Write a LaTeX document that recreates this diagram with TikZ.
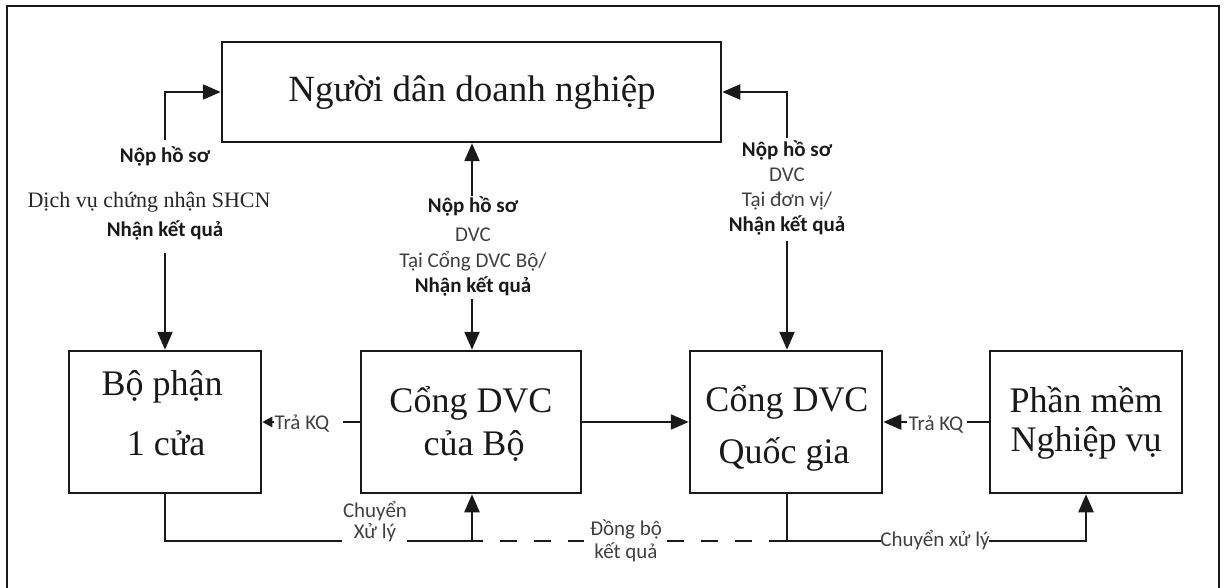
\documentclass[tikz,border=0pt]{standalone}
\usepackage{fontspec}
\setmainfont{Liberation Serif}
\newfontfamily\labfont{Carlito}
\usetikzlibrary{arrows.meta}
\begin{document}
\begin{tikzpicture}[x=1pt,y=-1pt,
  box/.style={draw=black!90,line width=2.5pt,inner sep=0pt},
  btxt/.style={anchor=base,inner sep=0pt,font=\fontsize{36}{40}\selectfont,text=black!90},
  lb/.style={anchor=base,inner sep=0pt,font=\labfont\bfseries\fontsize{21}{25}\selectfont,text=black!90},
  lr/.style={anchor=base,inner sep=0pt,font=\labfont\fontsize{21}{25}\selectfont,text=black!75},
  ls/.style={anchor=base,inner sep=0pt,font=\fontsize{22}{26}\selectfont,text=black!85},
  ln/.style={line width=2.3pt,draw=black!90},
  arr/.style={ln,-{Triangle[length=18pt,width=15pt]}},
  sarr/.style={ln,-{Triangle[length=10pt,width=10pt]}},
  dsh/.style={ln,dash pattern=on 17pt off 17pt}]
\useasboundingbox (0,0) rectangle (1224,588);
% outer frame
\draw[line width=2pt,draw=black!90] (7,588) -- (7,6) -- (1219,6) -- (1219,588);

% boxes
\node[box,minimum width=499pt,minimum height=100pt] (top) at (471.5,92) {};
\node[btxt,font=\fontsize{37}{40}\selectfont] (topt) at (472,102) {Người dân doanh nghiệp};

\node[box,minimum width=192pt,minimum height=142pt] (b1) at (165,422) {};
\node[btxt] (b1a) at (162,395) {Bộ phận};
\node[btxt] (b1b) at (166,455) {1 cửa};

\node[box,minimum width=220pt,minimum height=142pt] (b2) at (471,422) {};
\node[btxt] (b2a) at (471,412) {Cổng DVC};
\node[btxt] (b2b) at (474,455) {của Bộ};

\node[box,minimum width=192pt,minimum height=142pt] (b3) at (786,422) {};
\node[btxt] (b3a) at (787,411) {Cổng DVC};
\node[btxt] (b3b) at (784,463) {Quốc gia};

\node[box,minimum width=192pt,minimum height=142pt] (b4) at (1086,422) {};
\node[btxt] (b4a) at (1086,412) {Phần mềm};
\node[btxt] (b4b) at (1086,451) {Nghiệp vụ};

% left labels
\node[lb] (lnop) at (165,163) {Nộp hồ sơ};
\node[ls] (ldv) at (149,208) {Dịch vụ chứng nhận SHCN};
\node[lb] (lnhan) at (165,237) {Nhận kết quả};

% middle labels
\node[lb] (mnop) at (473,213) {Nộp hồ sơ};
\node[lr] (mdvc) at (473,242) {DVC};
\node[lr] (mtai) at (473,268) {Tại Cổng DVC Bộ/};
\node[lb] (mnhan) at (473,293) {Nhận kết quả};

% right labels
\node[lb] (rnop) at (787,157) {Nộp hồ sơ};
\node[lr] (rdvc) at (787,182) {DVC};
\node[lr] (rtai) at (787,207) {Tại đơn vị/};
\node[lb] (rnhan) at (787,232) {Nhận kết quả};

% Tra KQ labels
\node[lr] (tk1) at (302,429) {Trả KQ};
\node[lr] (tk2) at (936,430) {Trả KQ};

% bottom labels
\node[lr] (cx1) at (375,517) {Chuyển};
\node[lr] (cx2) at (375,538) {Xử lý};
\node[lr] (db1) at (626,535) {Đồng bộ};
\node[lr] (db2) at (626,558) {kết quả};
\node[lr] (cxl) at (935,546) {Chuyển xử lý};

% vertical connectors
\coordinate (la) at (165,140);
\coordinate (lbb) at (165,253);
\coordinate (ma) at (472,196);
\coordinate (mb) at (472,299);
\coordinate (ra) at (787,138);
\coordinate (rb) at (787,241);
\draw[arr] (la) |- (top.west);
\draw[arr] (lbb) -- (b1.north);
\draw[arr] (ma) -- (ma |- top.south);
\draw[arr] (mb) -- (mb |- b2.north);
\draw[arr] (ra) |- (top.east);
\draw[arr] (rb) -- (rb |- b3.north);

% horizontal connectors
\draw[arr] (b2.east) -- (b3.west);
\coordinate (t1e) at (343,422);
\draw[ln] (b2.west) -- (t1e);
\draw[sarr] (tk1.west |- b1.east) -- (b1.east);
\coordinate (t2e) at (967,422);
\draw[ln] (b4.west) -- (t2e);
\draw[arr] ([xshift=-1pt]tk2.west |- b3.east) -- (b3.east);

% bottom line
\coordinate (g1) at (342,541);
\coordinate (g2) at (407,541);
\coordinate (jm) at (472,541);
\coordinate (g3) at (584,541);
\coordinate (g4) at (667,541);
\coordinate (jr) at (787,541);
\coordinate (g5) at (881,541);
\coordinate (g6) at (989,541);
\draw[ln] (b1.south) |- (g1);
\draw[ln] (g2) -- (jm);
\draw[arr] (jm) -- (jm |- b2.south);
\draw[dsh,dash phase=6pt] (jm) -- (g3);
\draw[dsh] (g4) -- (jr);
\draw[ln] (jr |- b3.south) -- (jr) -- (g5);
\draw[arr] (g6) -| (b4.south);
\end{tikzpicture}
\end{document}
